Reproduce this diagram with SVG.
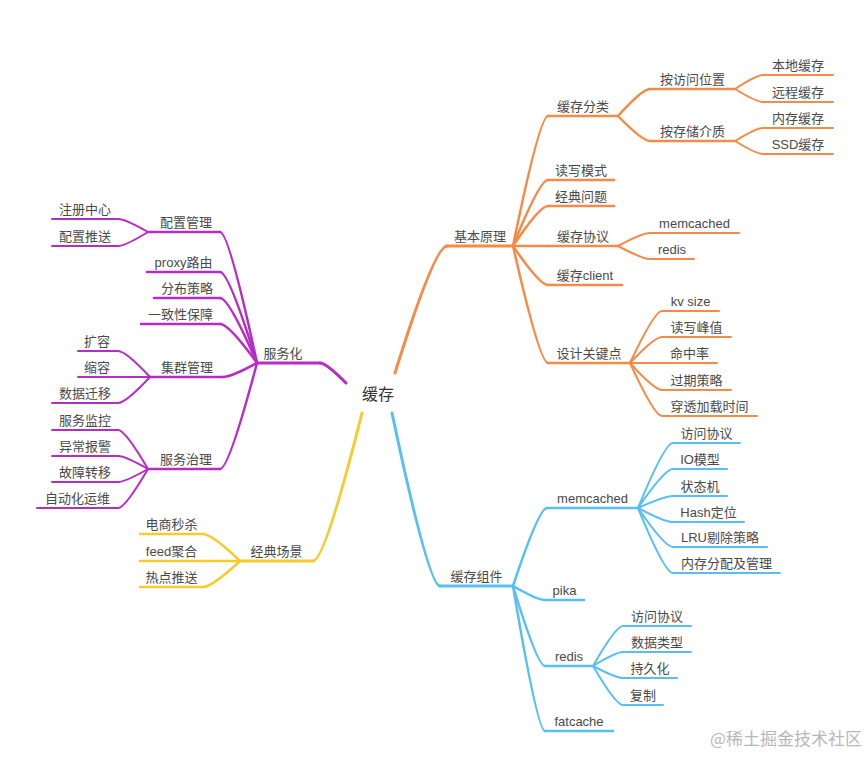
<svg xmlns="http://www.w3.org/2000/svg" width="868" height="757" viewBox="0 0 868 757">
<style>
path{fill:none;stroke-linecap:round;stroke-linejoin:round}
.o{stroke:#f68a47}
.b{stroke:#57bff5}
.p{stroke:#b52cc6}
.y{stroke:#f8cb2c}
.w1{stroke-width:3}
.w2{stroke-width:2.5}
.w3{stroke-width:2}
text{font-family:"Liberation Sans","Noto Sans CJK SC",sans-serif;font-size:13px;fill:#4a4a4a;text-anchor:middle}
.root{font-size:16px;fill:#333}
.wm{font-family:"Noto Sans CJK SC",sans-serif;font-size:17px;fill:#b8b8b8;text-anchor:end}
</style>
<rect width="868" height="757" fill="#fff"/>
<g id="connectors">
<path class="o w1" d="M395,373 Q434.5,246 447,246"/>
<path class="o w2" d="M513,246 Q539.6,116 548,116"/>
<path class="o w2" d="M513,246 Q539.6,180 548,180"/>
<path class="o w2" d="M513,246 Q539.6,206 548,206"/>
<path class="o w2" d="M513,246 L548,246"/>
<path class="o w2" d="M513,246 Q539.6,285 548,285"/>
<path class="o w2" d="M513,246 Q539.6,363 548,363"/>
<path class="o w2" d="M618,116 Q642.3,89 650,89"/>
<path class="o w2" d="M618,116 Q642.3,141 650,141"/>
<path class="o w3" d="M735,89 Q756.3,75 763,75"/>
<path class="o w3" d="M735,89 Q756.3,102 763,102"/>
<path class="o w3" d="M735,141 Q756.3,128 763,128"/>
<path class="o w3" d="M735,141 Q756.3,154 763,154"/>
<path class="o w3" d="M618,246 Q642.3,233 650,233"/>
<path class="o w3" d="M618,246 Q642.3,259 650,259"/>
<path class="o w3" d="M630,363 Q654.3,311 662,311"/>
<path class="o w3" d="M630,363 Q654.3,337 662,337"/>
<path class="o w3" d="M630,363 L662,363"/>
<path class="o w3" d="M630,363 Q654.3,390 662,390"/>
<path class="o w3" d="M630,363 Q654.3,416 662,416"/>

<path class="b w1" d="M392,413 Q428.5,586 440,586"/>
<path class="b w2" d="M513,586 Q538.8,508 547,508"/>
<path class="b w2" d="M513,586 Q537.3,600 545,600"/>
<path class="b w2" d="M513,586 Q537.3,666 545,666"/>
<path class="b w2" d="M513,586 Q537.3,731 545,731"/>
<path class="b w3" d="M638,508 Q664.6,443 673,443"/>
<path class="b w3" d="M638,508 Q664.6,469 673,469"/>
<path class="b w3" d="M638,508 Q664.6,496 673,496"/>
<path class="b w3" d="M638,508 Q664.6,522 673,522"/>
<path class="b w3" d="M638,508 Q664.6,547 673,547"/>
<path class="b w3" d="M638,508 Q664.6,573 673,573"/>
<path class="b w3" d="M593,666 Q615.8,626 623,626"/>
<path class="b w3" d="M593,666 Q615.8,652 623,652"/>
<path class="b w3" d="M593,666 Q615.8,678 623,678"/>
<path class="b w3" d="M593,666 Q615.8,705 623,705"/>

<path class="p w1" d="M346,383 Q326.2,363 320,363"/>
<path class="p w2" d="M257,363 Q228.9,232 220,232"/>
<path class="p w2" d="M257,363 Q228.9,272 220,272"/>
<path class="p w2" d="M257,363 Q228.9,298 220,298"/>
<path class="p w2" d="M257,363 Q228.9,324 220,324"/>
<path class="p w2" d="M257,363 Q231.2,377 223,377"/>
<path class="p w2" d="M257,363 Q228.9,469 220,469"/>
<path class="p w3" d="M148,232 Q125.2,219 118,219"/>
<path class="p w3" d="M148,232 Q125.2,246 118,246"/>
<path class="p w3" d="M150,377 Q125.7,351 118,351"/>
<path class="p w3" d="M150,377 L118,377"/>
<path class="p w3" d="M150,377 Q125.7,403 118,403"/>
<path class="p w3" d="M148,469 Q125.2,430 118,430"/>
<path class="p w3" d="M148,469 Q125.2,456 118,456"/>
<path class="p w3" d="M148,469 Q125.2,482 118,482"/>
<path class="p w3" d="M148,469 Q125.2,508 118,508"/>

<path class="y w1" d="M362,413 Q324.8,561 313,561"/>
<path class="y w2" d="M240,561 Q211.9,534 203,534"/>
<path class="y w2" d="M240,561 L203,561"/>
<path class="y w2" d="M240,561 Q211.9,587 203,587"/>
</g>

<g id="root"><text class="root" x="378" y="400">缓存</text></g>

<g id="n-jbyl"><path class="o w1" d="M447,246 H513"/><text x="480" y="241">基本原理</text></g>
<g id="n-hcfl"><path class="o w2" d="M548,116 H618"/><text x="583" y="111">缓存分类</text></g>
<g id="n-dxms"><path class="o w2" d="M548,180 H614"/><text x="581" y="175">读写模式</text></g>
<g id="n-jdwt"><path class="o w2" d="M548,206 H614"/><text x="581" y="201">经典问题</text></g>
<g id="n-hcxy"><path class="o w2" d="M548,246 H618"/><text x="583" y="241">缓存协议</text></g>
<g id="n-hcclient"><path class="o w2" d="M548,285 H622"/><text x="585" y="280">缓存client</text></g>
<g id="n-sjgjd"><path class="o w2" d="M548,363 H630"/><text x="589" y="358">设计关键点</text></g>
<g id="n-afwwz"><path class="o w2" d="M650,89 H735"/><text x="692.5" y="84">按访问位置</text></g>
<g id="n-accjz"><path class="o w2" d="M650,141 H735"/><text x="692.5" y="136">按存储介质</text></g>
<g id="n-bdhc"><path class="o w3" d="M763,75 H833"/><text x="798" y="70">本地缓存</text></g>
<g id="n-ychc"><path class="o w3" d="M763,102 H833"/><text x="798" y="97">远程缓存</text></g>
<g id="n-nchc"><path class="o w3" d="M763,128 H833"/><text x="798" y="123">内存缓存</text></g>
<g id="n-ssdhc"><path class="o w3" d="M763,154 H833"/><text x="798" y="149">SSD缓存</text></g>
<g id="n-xy-memcached"><path class="o w3" d="M650,233 H739"/><text x="694.5" y="228">memcached</text></g>
<g id="n-xy-redis"><path class="o w3" d="M650,259 H694"/><text x="672" y="254">redis</text></g>
<g id="n-kvsize"><path class="o w3" d="M662,311 H719"/><text x="690.5" y="306">kv size</text></g>
<g id="n-dxfz"><path class="o w3" d="M662,337 H731"/><text x="696.5" y="332">读写峰值</text></g>
<g id="n-mzl"><path class="o w3" d="M662,363 H717"/><text x="689.5" y="358">命中率</text></g>
<g id="n-gqcl"><path class="o w3" d="M662,390 H731"/><text x="696.5" y="385">过期策略</text></g>
<g id="n-ctjzsj"><path class="o w3" d="M662,416 H757"/><text x="709.5" y="411">穿透加载时间</text></g>

<g id="n-hczj"><path class="b w1" d="M440,586 H513"/><text x="476.5" y="581">缓存组件</text></g>
<g id="n-memcached"><path class="b w2" d="M547,508 H638"/><text x="592.5" y="503">memcached</text></g>
<g id="n-pika"><path class="b w2" d="M545,600 H584"/><text x="564.5" y="595">pika</text></g>
<g id="n-redis"><path class="b w2" d="M545,666 H593"/><text x="569" y="661">redis</text></g>
<g id="n-fatcache"><path class="b w2" d="M545,731 H613"/><text x="579" y="726">fatcache</text></g>
<g id="n-m-fwxy"><path class="b w3" d="M673,443 H740"/><text x="706.5" y="438">访问协议</text></g>
<g id="n-m-io"><path class="b w3" d="M673,469 H727"/><text x="700" y="464">IO模型</text></g>
<g id="n-m-ztj"><path class="b w3" d="M673,496 H727"/><text x="700" y="491">状态机</text></g>
<g id="n-m-hash"><path class="b w3" d="M673,522 H744"/><text x="708.5" y="517">Hash定位</text></g>
<g id="n-m-lru"><path class="b w3" d="M673,547 H767"/><text x="720" y="542">LRU剔除策略</text></g>
<g id="n-m-nc"><path class="b w3" d="M673,573 H780"/><text x="726.5" y="568">内存分配及管理</text></g>
<g id="n-r-fwxy"><path class="b w3" d="M623,626 H691"/><text x="657" y="621">访问协议</text></g>
<g id="n-r-sjlx"><path class="b w3" d="M623,652 H691"/><text x="657" y="647">数据类型</text></g>
<g id="n-r-cjh"><path class="b w3" d="M623,678 H677"/><text x="650" y="673">持久化</text></g>
<g id="n-r-fz"><path class="b w3" d="M623,705 H663"/><text x="643" y="700">复制</text></g>

<g id="n-fwh"><path class="p w1" d="M257,363 H320"/><text x="283" y="358">服务化</text></g>
<g id="n-pzgl"><path class="p w2" d="M148,232 H220"/><text x="186" y="227">配置管理</text></g>
<g id="n-proxy"><path class="p w2" d="M147,272 H220"/><text x="183.5" y="267">proxy路由</text></g>
<g id="n-fbcl"><path class="p w2" d="M154,298 H220"/><text x="187" y="293">分布策略</text></g>
<g id="n-yzxbz"><path class="p w2" d="M141,324 H220"/><text x="180.5" y="319">一致性保障</text></g>
<g id="n-jqgl"><path class="p w2" d="M150,377 H223"/><text x="187" y="372">集群管理</text></g>
<g id="n-fwzl"><path class="p w2" d="M148,469 H220"/><text x="186" y="464">服务治理</text></g>
<g id="n-zczx"><path class="p w3" d="M52,219 H118"/><text x="85" y="214">注册中心</text></g>
<g id="n-pzts"><path class="p w3" d="M52,246 H118"/><text x="85" y="241">配置推送</text></g>
<g id="n-kr"><path class="p w3" d="M78,351 H118"/><text x="97" y="346">扩容</text></g>
<g id="n-sr"><path class="p w3" d="M78,377 H118"/><text x="97" y="372">缩容</text></g>
<g id="n-sjqy"><path class="p w3" d="M52,403 H118"/><text x="85" y="398">数据迁移</text></g>
<g id="n-fwjk"><path class="p w3" d="M52,430 H118"/><text x="85" y="425">服务监控</text></g>
<g id="n-ycbj"><path class="p w3" d="M52,456 H118"/><text x="85" y="451">异常报警</text></g>
<g id="n-gzzy"><path class="p w3" d="M52,482 H118"/><text x="85" y="477">故障转移</text></g>
<g id="n-zdhyw"><path class="p w3" d="M37,508 H118"/><text x="77.5" y="503">自动化运维</text></g>

<g id="n-jdcj"><path class="y w1" d="M240,561 H313"/><text x="276.5" y="556">经典场景</text></g>
<g id="n-dsms"><path class="y w2" d="M140,534 H203"/><text x="171.5" y="529">电商秒杀</text></g>
<g id="n-feed"><path class="y w2" d="M140,561 H203"/><text x="171.5" y="556">feed聚合</text></g>
<g id="n-rdts"><path class="y w2" d="M140,587 H203"/><text x="171.5" y="582">热点推送</text></g>

<text class="wm" x="862" y="745">@稀土掘金技术社区</text>
</svg>
